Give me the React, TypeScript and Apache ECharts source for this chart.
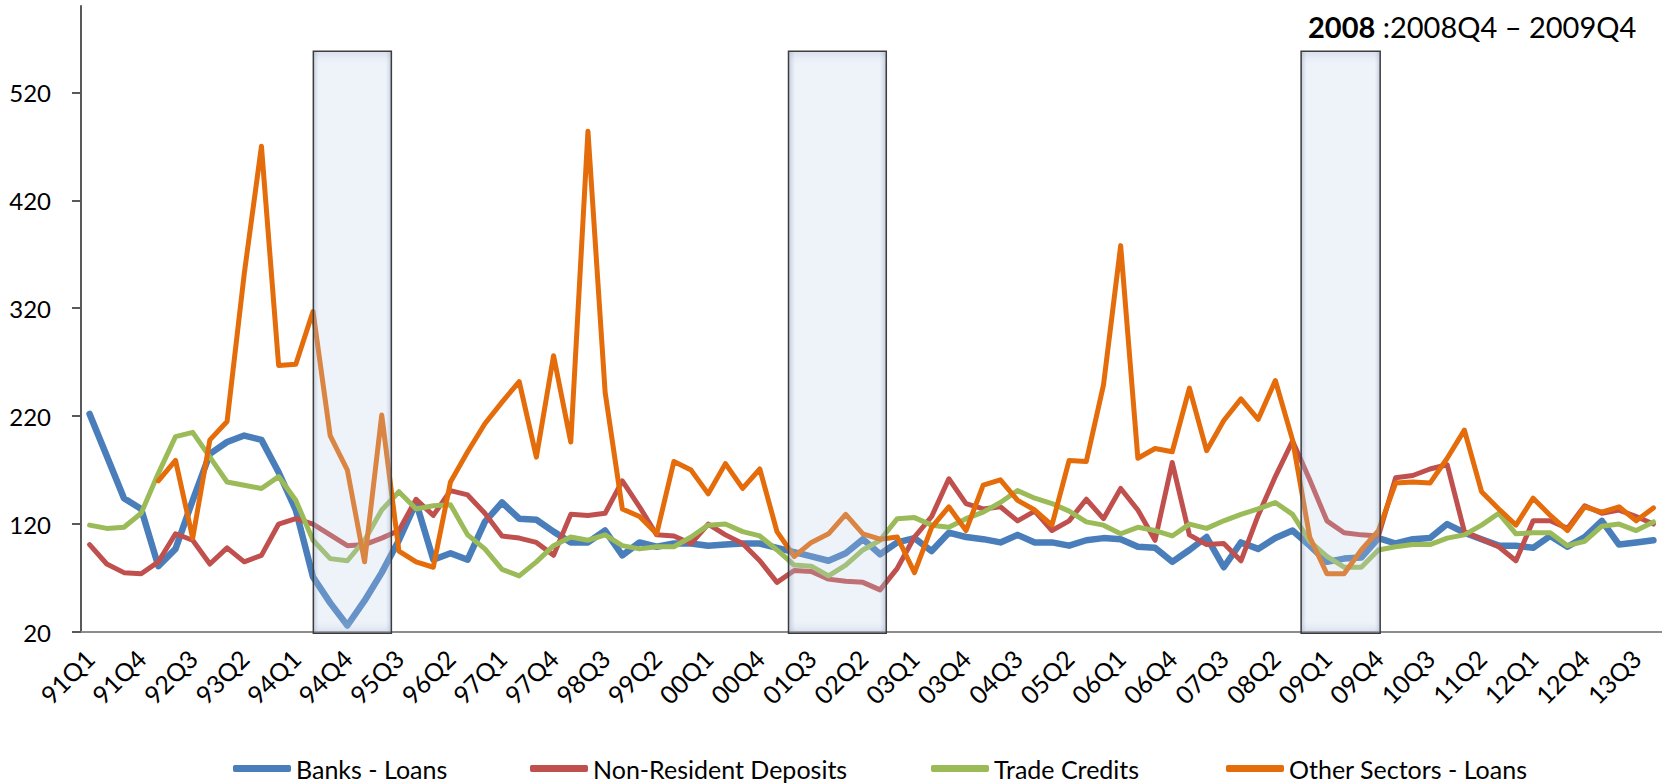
import React, { useEffect, useRef } from "react";
import * as echarts from "echarts";

const quarters: string[] = [];
for (let y = 1991; y <= 2013; y++) {
  for (let q = 1; q <= 4; q++) quarters.push(String(y % 100).padStart(2, "0") + "Q" + q);
}

const seriesNames = ["Banks - Loans", "Non-Resident Deposits", "Trade Credits", "Other Sectors - Loans"];

const banksLoans = [
  222, 183, 144, 134, 81, 97, 142, 185, 196, 202, 198, 168, 133, 71, 47, 26, 49, 75, 105,
  140, 87, 93, 87, 122, 140, 125, 124, 113, 103, 103, 114, 91, 103, 99, 102, 102, 100,
  101, 102, 102, 98, 94, 90, 86, 93, 106, 92, 103, 107, 95, 112, 108, 106, 103, 110, 103,
  103, 100, 105, 107, 106, 99, 98, 85, 96, 108, 80, 103, 97, 107, 114, 100, 85, 88,
  89, 107, 102, 106, 107, 120, 112, 106, 100, 100, 98, 109, 99, 108, 123, 101, 103, 105,
];

const nonResidentDeposits = [
  101, 83, 75, 74, 85, 111, 105, 83, 98, 85, 91, 120, 125, 120, 110, 100, 101, 107, 114,
  143, 128, 151, 147, 130, 109, 107, 103, 91, 129, 128, 130, 160, 136, 110, 109, 102, 120,
  110, 102, 86, 66, 77, 76, 69, 67, 66, 59, 79, 108, 127, 162, 139, 134, 136, 123, 132,
  114, 123, 143, 125, 153, 133, 105, 177, 110, 101, 102, 86, 128, 164, 197, 161, 123, 112,
  110, 109, 163, 165, 171, 175, 113, 106, 99, 86, 123, 123, 116, 137, 130, 133, 127, 120,
];

const tradeCredits = [
  119, 116, 117, 130, 167, 201, 205, 182, 159, 156, 153, 164, 142, 105, 88, 86, 105, 133, 150,
  134, 137, 138, 110, 97, 78, 72, 85, 100, 108, 105, 110, 100, 97, 99, 99, 108, 119,
  120, 113, 109, 96, 82, 81, 72, 82, 96, 105, 125, 126, 119, 117, 125, 131, 140, 151, 144,
  139, 132, 122, 119, 111, 117, 114, 109, 120, 116, 123, 129, 134, 140, 129, 104, 90, 80,
  80, 96, 99, 101, 101, 107, 110, 119, 130, 111, 112, 112, 100, 104, 118, 120, 114, 122,
];

const otherSectorsLoans = [
  null, null, null, null, 160, 179, 107, 198, 215, 352, 470, 267, 268, 317, 202, 170, 85, 221, 95,
  85, 80, 159, 187, 213, 233, 252, 182, 276, 196, 484, 242, 134, 127, 111, 178, 170, 148,
  176, 153, 171, 113, 90, 103, 111, 129, 111, 106, 108, 75, 117, 136, 114, 156, 161, 142, 133,
  119, 179, 178, 249, 378, 181, 190, 187, 246, 188, 216, 236, 217, 253, 198, 108, 74, 74,
  96, 114, 158, 159, 158, 181, 207, 150, 134, 119, 144, 128, 114, 136, 131, 136, 123, 135,
];

const yTicks = [20, 120, 220, 320, 420, 520];

// shaded crisis periods, in category-band units from the axis start
const crisisBands = [
  [13.52, 18.06],
  [41.17, 46.86],
  [71.0, 75.6],
];
const bandValueRange = [18.8, 558];

const colors = ["#4A7EBB", "#C0504D", "#9BBB59", "#E46C0A"];
const widths = [6.5, 5, 5, 5];
const legendLeft = [233, 530, 931, 1226];
const FONT = "Lato";

export default function App() {
  const ref = useRef<HTMLDivElement>(null);
  useEffect(() => {
    if (!ref.current) return;
    const chart = echarts.init(ref.current, undefined, { renderer: "svg" });
    const data = [banksLoans, nonResidentDeposits, tradeCredits, otherSectorsLoans];
    chart.setOption({
      animation: false,
      backgroundColor: "#ffffff",
      grid: { left: 81, right: 0, top: 6, bottom: 152 },
      xAxis: {
        type: "category",
        data: quarters,
        boundaryGap: true,
        axisLine: { lineStyle: { color: "#8c8c8c", width: 2 } },
        axisTick: { show: false },
        axisLabel: {
          interval: 2,
          rotate: 45,
          margin: 22,
          fontSize: 25,
          fontFamily: FONT,
          color: "#000",
        },
        splitLine: { show: false },
      },
      yAxis: {
        type: "value",
        min: 20,
        max: 600,
        interval: 100,
        axisLine: { show: true, lineStyle: { color: "#595959", width: 2 } },
        axisTick: { show: true, length: 9, lineStyle: { color: "#595959", width: 2 }, customValues: yTicks },
        axisLabel: { fontSize: 24, fontFamily: FONT, color: "#000", margin: 30, customValues: yTicks },
        splitLine: { show: false },
      },
      legend: seriesNames.map((n, k) => ({
        data: [n],
        left: legendLeft[k],
        top: 756,
        padding: 0,
        itemWidth: 58,
        itemHeight: 7,
        icon: "roundRect",
        selectedMode: false,
        textStyle: { fontSize: 25, fontFamily: FONT, color: "#000" },
      })),
      series: seriesNames.map((n, k) => ({
        name: n,
        type: "line",
        data: data[k],
        symbol: "none",
        connectNulls: false,
        color: colors[k],
        lineStyle: { color: colors[k], width: widths[k], join: "round", cap: "round" },
        z: 2 + k,
      })),
    });

    const c0 = chart.convertToPixel({ xAxisIndex: 0 }, quarters[0]) as number;
    const c1 = chart.convertToPixel({ xAxisIndex: 0 }, quarters[1]) as number;
    const bw = c1 - c0;
    const yTop = chart.convertToPixel({ yAxisIndex: 0 }, bandValueRange[1]) as number;
    const yBot = chart.convertToPixel({ yAxisIndex: 0 }, bandValueRange[0]) as number;
    const edgeColor = {
      type: "linear",
      x: 0, y: 0, x2: 1, y2: 0,
      colorStops: [
        { offset: 0, color: "rgba(140,155,185,0.55)" },
        { offset: 0.07, color: "rgba(187,207,235,0.25)" },
        { offset: 0.93, color: "rgba(187,207,235,0.25)" },
        { offset: 1, color: "rgba(140,155,185,0.55)" },
      ],
    };
    const topBevel = {
      type: "linear",
      x: 0, y: 0, x2: 0, y2: 1,
      colorStops: [
        { offset: 0, color: "rgba(150,165,195,0.25)" },
        { offset: 0.025, color: "rgba(255,255,255,0)" },
        { offset: 0.975, color: "rgba(255,255,255,0)" },
        { offset: 1, color: "rgba(150,165,195,0.25)" },
      ],
    };
    const graphics: any[] = [];
    crisisBands.forEach(([a, b]) => {
      const x1 = c0 + (a - 0.5) * bw;
      const x2 = c0 + (b - 0.5) * bw;
      graphics.push({
        type: "rect",
        z: 100,
        shape: { x: x1, y: yTop, width: x2 - x1, height: yBot - yTop },
        style: { fill: edgeColor, stroke: "#3c3c3c", lineWidth: 1.5 },
      });
      graphics.push({
        type: "rect",
        z: 101,
        shape: { x: x1 + 1, y: yTop + 1, width: x2 - x1 - 2, height: yBot - yTop - 2 },
        style: { fill: topBevel },
      });
    });
    graphics.push({
      type: "text",
      z: 110,
      left: 1308,
      top: 12,
      style: {
        text: "{b|2008} :2008Q4 \u2013 2009Q4",
        rich: {
          b: { fontSize: 29, fontWeight: "bold", fontFamily: FONT, fill: "#000" },
        },
        fontSize: 29,
        fontFamily: FONT,
        fill: "#000",
      },
    });
    chart.setOption({ graphic: graphics });

    return () => chart.dispose();
  }, []);
  return (
    <div
      ref={ref}
      style={{ position: "absolute", left: 0, top: 0, width: 1662, height: 784 }}
    />
  );
}
